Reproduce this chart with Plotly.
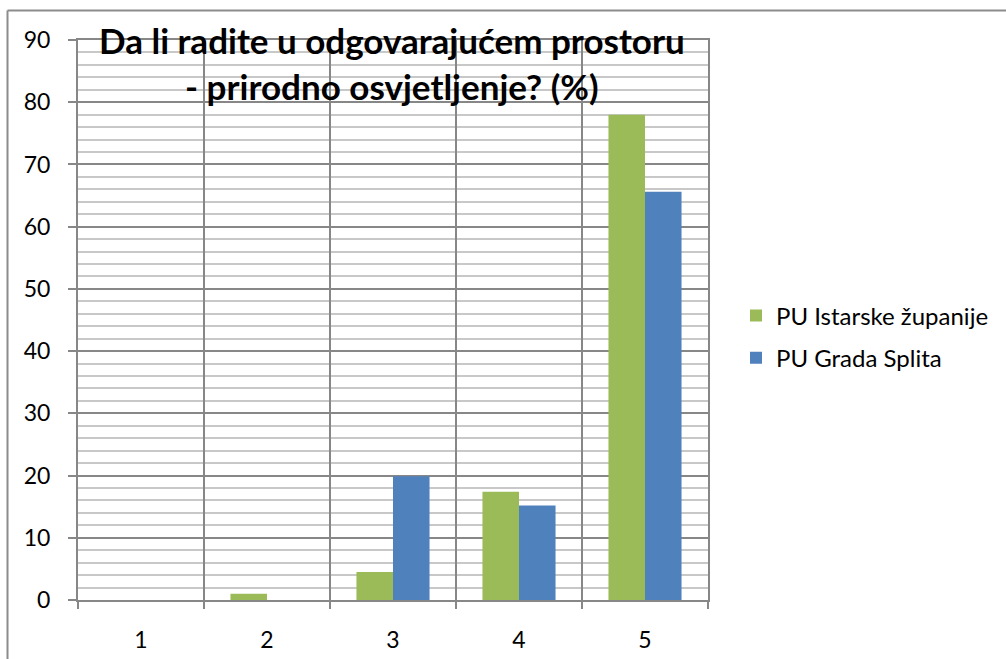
import plotly.graph_objects as go

# Survey answers (scale 1-5), share of respondents in %
categories = ["1", "2", "3", "4", "5"]
istra = [0, 1.0, 4.5, 17.4, 78.0]
split = [0, 0, 19.9, 15.2, 65.6]
series_names = ["PU Istarske županije", "PU Grada Splita"]

W, H = 1006, 659
L, R, T, B = 78, 708, 40, 600

fig = go.Figure()
fig.add_trace(go.Bar(x=categories, y=istra, name=series_names[0], legendgroup="a",
                     marker=dict(color="#9BBB59", line=dict(width=0))))
fig.add_trace(go.Bar(x=categories, y=split, name=series_names[1], legendgroup="b",
                     marker=dict(color="#4F81BD", line=dict(width=0))))

grid_dark = "#878787"
grid_light = "#c8c8c8"

def px_to_paper_x(px):
    return (px - L) / (R - L)

def px_to_paper_y(py):
    return (B - py) / (B - T)

fig.update_layout(
    width=W, height=H,
    margin=dict(l=L, r=W - R, t=T, b=H - B, autoexpand=False),
    paper_bgcolor="white", plot_bgcolor="white",
    barmode="group", bargap=0.42, bargroupgap=0,
    font=dict(family="Lato, Carlito, sans-serif", color="#000000"),
    showlegend=True,
    legend=dict(x=px_to_paper_x(736), y=px_to_paper_y(337), xanchor="left", yanchor="middle",
                font=dict(size=24), bgcolor="rgba(0,0,0,0)", tracegroupgap=8,
                itemwidth=30),
    xaxis=dict(type="category", tickson="boundaries", ticks="outside", ticklen=7,
               tickcolor=grid_dark, tickwidth=2, automargin=False,
               showgrid=True, gridcolor=grid_dark, gridwidth=2,
               showline=True, linecolor=grid_dark, linewidth=2, mirror=True,
               tickfont=dict(size=23), ticklabelstandoff=18),
    yaxis=dict(range=[0, 90], dtick=10, ticks="outside", ticklen=8,
               tickcolor=grid_dark, tickwidth=2, automargin=False,
               showgrid=True, gridcolor=grid_dark, gridwidth=2,
               minor=dict(dtick=2, showgrid=True, gridcolor=grid_light, gridwidth=2),
               showline=True, linecolor=grid_dark, linewidth=2, mirror=True,
               tickfont=dict(size=23), ticklabelstandoff=13, zeroline=False),
)

# Chart title
fig.add_annotation(
    text="Da li radite u odgovarajućem prostoru<br>- prirodno osvjetljenje? (%)",
    xref="paper", yref="paper", x=px_to_paper_x(392), y=px_to_paper_y(63),
    xanchor="center", yanchor="middle", showarrow=False, align="center",
    font=dict(size=35, family="Lato, Carlito, sans-serif", color="#000000", weight="bold"),
)

# Outer chart frame (top and left edges)
bx, by = px_to_paper_x(7.5), px_to_paper_y(10.5)
fig.add_shape(type="line", xref="paper", yref="paper", x0=bx, x1=bx, y0=px_to_paper_y(H + 5), y1=by,
              line=dict(color="#8c8c8c", width=2))
fig.add_shape(type="line", xref="paper", yref="paper", x0=bx, x1=px_to_paper_x(W + 5), y0=by, y1=by,
              line=dict(color="#8c8c8c", width=2))

fig.write_html("out.html")
